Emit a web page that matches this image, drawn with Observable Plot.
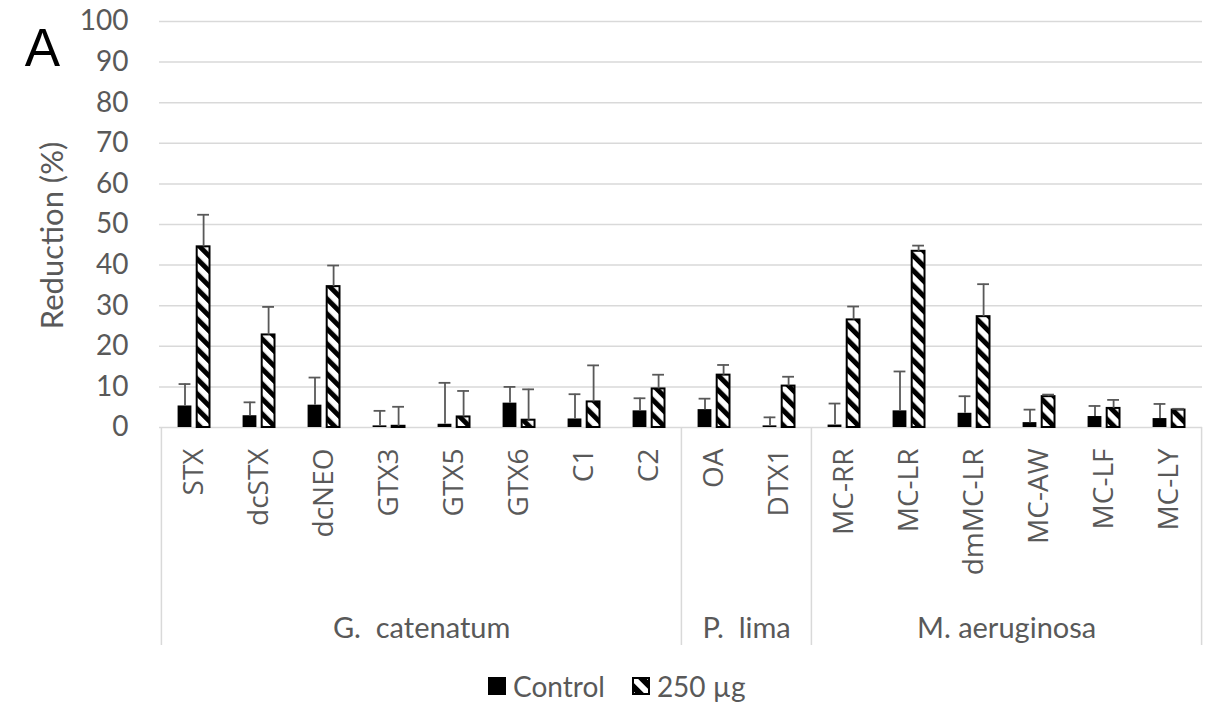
<!DOCTYPE html>
<html><head><meta charset="utf-8">
<script src="https://cdn.jsdelivr.net/npm/d3@7"></script>
<script src="https://cdn.jsdelivr.net/npm/@observablehq/plot@0.6"></script>
<style>
body{margin:0;background:#fff;font-family:Lato,sans-serif;}
#chart{width:1210px;}
#chart svg text{white-space:pre;}
#legend{position:relative;width:1210px;height:52px;}
#legend .items{position:absolute;left:488px;top:0;height:52px;display:flex;align-items:center;font-family:Lato,sans-serif;font-size:28px;color:#595959;}
#legend .sw{width:18px;height:18px;margin-right:7px;}
</style></head><body>
<div id="chart"></div>
<div id="legend"><div class="items">
<svg class="sw" width="18" height="18"><rect x="0" y="0" width="18" height="18" fill="#000"/></svg><span>Control</span>
<svg class="sw" width="18" height="18" style="margin-left:27px"><rect x="1" y="1" width="16" height="16" fill="url(#hatchL)" stroke="#000" stroke-width="2"/></svg><span>250 µg</span>
</div></div>
<script>
const categories = ["STX","dcSTX","dcNEO","GTX3","GTX5","GTX6","C1","C2","OA","DTX1","MC-RR","MC-LR","dmMC-LR","MC-AW","MC-LF","MC-LY"];
const controlValues = [5.3, 2.9, 5.5, 0.4, 0.8, 6.0, 2.1, 4.1, 4.4, 0.4, 0.6, 4.1, 3.5, 1.2, 2.7, 2.2];
const controlSD     = [5.4, 3.3, 6.8, 3.7, 10.2, 4.0, 6.1, 3.1, 2.7, 2.1, 5.3, 9.7, 4.2, 3.2, 2.6, 3.6];
const treatedValues = [44.5, 22.8, 34.7, 0.3, 2.6, 1.8, 6.3, 9.5, 12.9, 10.2, 26.5, 43.4, 27.3, 7.6, 4.7, 4.3];
const treatedSD     = [7.9, 6.9, 5.2, 4.8, 6.4, 7.6, 9.0, 3.5, 2.5, 2.3, 3.3, 1.4, 8.0, 0.5, 2.1, 0.3];
const groupNames = ["G.  catenatum", "P.  lima", "M. aeruginosa"];
const groupSizes = [8, 2, 6];
const yTicks = [0,10,20,30,40,50,60,70,80,90,100];
const yLabel = "Reduction (%)";
const panelLabel = "A";

const W = 1210, H = 660, mL = 159, mR = 8, mT = 21, mB = 233;
const bw = (W - mL - mR) / categories.length;
const rows = categories.map((c, i) => ({cat: c, ctrl: controlValues[i], ctrlSD: controlSD[i], trt: treatedValues[i], trtSD: treatedSD[i]}));

let start = 0;
const groupStarts = [], groupLabels = [];
groupNames.forEach((g, k) => {
  groupStarts.push(categories[start]);
  groupLabels.push({name: g, cat: categories[start + groupSizes[k] / 2 - 1]});
  start += groupSizes[k];
});
const lastCat = [categories[categories.length - 1]];

const dC = -9, dT = 9.6;
const grey = "#595959";
const sepInset = -218;

const plot = Plot.plot({
  width: W, height: H,
  marginLeft: mL, marginRight: mR, marginTop: mT, marginBottom: mB,
  style: {fontFamily: "Lato, sans-serif", background: "white", overflow: "visible"},
  x: {domain: categories, padding: 0},
  y: {domain: [0, 100]},
  marks: [
    Plot.gridY(yTicks, {stroke: "#d9d9d9", strokeOpacity: 1, strokeWidth: 1.5}),
    Plot.axisY(yTicks, {tickSize: 0, tickPadding: 31, fontSize: 28, fill: grey, label: null, fontFamily: "Lato, sans-serif"}),
    Plot.axisX({tickSize: 0, tickRotate: -90, tickPadding: 21, fontSize: 28, fill: grey, label: null, fontFamily: "Open Sans, sans-serif"}),
    Plot.ruleX(groupStarts, {x: d => d, y1: 0, y2: 0, dx: -bw / 2, insetBottom: sepInset, stroke: "#d9d9d9", strokeWidth: 1.5}),
    Plot.ruleX(lastCat, {x: d => d, y1: 0, y2: 0, dx: bw / 2, insetBottom: sepInset, stroke: "#d9d9d9", strokeWidth: 1.5}),
    Plot.barY(rows, {x: "cat", y: "ctrl", fill: "#000", insetLeft: (bw - 14) / 2, insetRight: (bw - 14) / 2, dx: dC}),
    Plot.barY(rows, {x: "cat", y: "trt", fill: "url(#hatch)", stroke: "#000", strokeWidth: 2, insetLeft: (bw - 13) / 2, insetRight: (bw - 13) / 2, dx: dT}),
    Plot.ruleX(rows, {x: "cat", y1: "ctrl", y2: d => d.ctrl + d.ctrlSD, dx: dC, stroke: grey, strokeWidth: 1.8}),
    Plot.tickY(rows, {x: "cat", y: d => d.ctrl + d.ctrlSD, dx: dC, insetLeft: (bw - 12) / 2, insetRight: (bw - 12) / 2, stroke: grey, strokeWidth: 1.8}),
    Plot.ruleX(rows, {x: "cat", y1: "trt", y2: d => d.trt + d.trtSD, dx: dT, stroke: grey, strokeWidth: 1.8}),
    Plot.tickY(rows, {x: "cat", y: d => d.trt + d.trtSD, dx: dT, insetLeft: (bw - 12) / 2, insetRight: (bw - 12) / 2, stroke: grey, strokeWidth: 1.8}),
    Plot.text(groupLabels, {x: "cat", y: 0, text: "name", dx: bw / 2, dy: 201, fontSize: 29, fill: grey, fontFamily: "Lato, sans-serif"}),
    Plot.text([yLabel], {frameAnchor: "left", textAnchor: "middle", rotate: -90, dx: -106, dy: 11, fontSize: 31, fill: grey, fontFamily: "Lato, sans-serif"}),
    Plot.text([panelLabel], {frameAnchor: "top-left", textAnchor: "middle", dx: -117, dy: 44, lineAnchor: "bottom", fontSize: 53, fill: "#000", fontFamily: "Liberation Sans, Arial, sans-serif"})
  ]
});

const ns = "http://www.w3.org/2000/svg";
const defs = document.createElementNS(ns, "defs");
defs.innerHTML = `
<pattern id="hatch" patternUnits="userSpaceOnUse" width="10.6" height="10.6" patternTransform="rotate(-45)">
<rect width="10.6" height="10.6" fill="#fff"/><rect width="5" height="10.6" fill="#000"/></pattern>
<pattern id="hatchL" patternUnits="userSpaceOnUse" width="12" height="12" patternTransform="translate(9,9) rotate(-45)">
<rect width="12" height="12" fill="#fff"/><rect x="3" width="6" height="12" fill="#000"/></pattern>`;
plot.prepend(defs);
document.getElementById("chart").appendChild(plot);
</script>
</body></html>
